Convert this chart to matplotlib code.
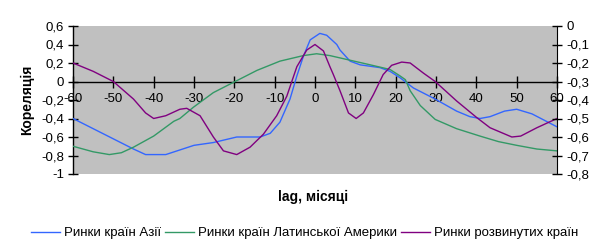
import matplotlib
matplotlib.use("Agg")
import matplotlib.pyplot as plt
from matplotlib.ticker import FixedLocator, FuncFormatter

plt.rcParams['font.family'] = ['Liberation Sans', 'DejaVu Sans']

series_names = ["Ринки країн Азії", "Ринки країн Латинської Америки", "Ринки розвинутих країн"]

asia_lag = [-60, -50, -45, -42, -40, -37, -33.5, -30, -25.2, -19.4, -13.6, -11.1, -8.7, -6.2, -4.5, -2.9, -1.2, 1.2, 2.9, 5.4, 6.2, 8.7, 11.2, 16.1, 18.6, 21.1, 24.4, 29.8, 35.1, 38.4, 40.9, 43.4, 47, 50, 53.8, 60]
asia_val = [-0.40, -0.62, -0.73, -0.79, -0.79, -0.79, -0.74, -0.69, -0.66, -0.60, -0.60, -0.56, -0.44, -0.19, 0.06, 0.27, 0.45, 0.52, 0.50, 0.40, 0.34, 0.22, 0.18, 0.15, 0.11, 0.04, -0.07, -0.19, -0.32, -0.38, -0.40, -0.38, -0.32, -0.30, -0.35, -0.49]

latam_lag = [-60, -55, -51, -48, -45, -40, -35, -33.5, -30.2, -25.2, -19.8, -14.4, -8.7, -2.9, 0.4, 3.7, 8.7, 13.7, 18.6, 21.1, 22.4, 23.6, 26.1, 29.8, 35.1, 40.9, 45.5, 50, 55, 60]
latam_val = [-0.70, -0.76, -0.79, -0.77, -0.71, -0.59, -0.43, -0.40, -0.28, -0.12, 0.0, 0.12, 0.22, 0.28, 0.30, 0.28, 0.23, 0.18, 0.13, 0.06, 0.02, -0.10, -0.26, -0.41, -0.51, -0.59, -0.65, -0.69, -0.73, -0.75]

dev_lag = [-60, -55, -50, -45, -42, -40, -37, -33.5, -31.8, -28.5, -25.2, -22.7, -19.4, -16.1, -12.8, -9.5, -7, -4.5, -2.05, 0, 2.1, 3.7, 4.5, 6.2, 8.3, 10.2, 12, 14.5, 16.9, 19, 21.5, 23.6, 26.9, 29.8, 35.1, 40.1, 43.4, 48.8, 51, 55, 60]
dev_val = [0.20, 0.11, 0.0, -0.19, -0.34, -0.40, -0.37, -0.30, -0.29, -0.37, -0.60, -0.75, -0.79, -0.71, -0.57, -0.37, -0.16, 0.16, 0.34, 0.40, 0.33, 0.16, 0.08, -0.10, -0.34, -0.40, -0.34, -0.14, 0.075, 0.175, 0.21, 0.20, 0.09, 0.0, -0.21, -0.39, -0.50, -0.60, -0.59, -0.50, -0.40]

x_ticks = [-60, -50, -40, -30, -20, -10, 0, 10, 20, 30, 40, 50, 60]
left_ticks = [0.6, 0.4, 0.2, 0, -0.2, -0.4, -0.6, -0.8, -1]
right_ticks = [0, -0.1, -0.2, -0.3, -0.4, -0.5, -0.6, -0.7, -0.8]

colors = ["#3366FF", "#339966", "#800080"]

def comma_fmt(v, pos=None):
    s = f"{v:.1f}".rstrip('0').rstrip('.')
    if s in ("-0", ""):
        s = "0"
    return s.replace('.', ',')

fig = plt.figure(figsize=(6.05, 2.5), dpi=100)
ax = fig.add_axes([73/605, 1-174/250, (557-73)/605, (174-26)/250])
ax.set_facecolor("#C0C0C0")

lines = []
for lag, val, c, name in zip([asia_lag, latam_lag, dev_lag], [asia_val, latam_val, dev_val], colors, series_names):
    l, = ax.plot(lag, val, color=c, lw=1.0, label=name, zorder=3, solid_joinstyle='round')
    lines.append(l)

ax.set_xlim(-60, 60)
ax.set_ylim(-1, 0.6)
ax.spines['top'].set_visible(False)
ax.spines['right'].set_visible(False)
ax.spines['bottom'].set_position(('data', 0))
ax.spines['bottom'].set_zorder(2)
for s in ['left', 'bottom']:
    ax.spines[s].set_linewidth(1.0)
    ax.spines[s].set_color('black')

ax.xaxis.set_major_locator(FixedLocator(x_ticks))
ax.xaxis.set_major_formatter(FuncFormatter(lambda v, p: f"{int(v)}"))
ax.yaxis.set_major_locator(FixedLocator(left_ticks))
ax.yaxis.set_major_formatter(FuncFormatter(comma_fmt))
ax.tick_params(axis='x', direction='inout', length=8, width=1, pad=4, labelsize=9.5, colors='black')
ax.tick_params(axis='y', direction='inout', length=7, width=1, pad=3, labelsize=9.5, colors='black')

ax2 = ax.twinx()
ax2.set_ylim(-0.8, 0)
ax2.spines['top'].set_visible(False)
ax2.spines['left'].set_visible(False)
ax2.spines['bottom'].set_visible(False)
ax2.spines['right'].set_color('black')
ax2.yaxis.set_major_locator(FixedLocator(right_ticks))
ax2.yaxis.set_major_formatter(FuncFormatter(comma_fmt))
ax2.tick_params(axis='y', direction='inout', length=7, width=1, pad=3, labelsize=9.5, colors='black')

fig.text(27/605, 1-100/250, "Кореляція", rotation=90, ha='center', va='center', fontsize=10, fontweight='bold')
fig.text(313/605, 1-197/250, "lag, місяці", ha='center', va='center', fontsize=10, fontweight='bold')

fig.legend(handles=lines, labels=series_names, loc='center', bbox_to_anchor=(305/605, 1-233/250),
           ncol=3, frameon=False, fontsize=9.5, handlelength=2.2, handletextpad=0.3, columnspacing=0.3)

fig.savefig("out.png", dpi=100)
